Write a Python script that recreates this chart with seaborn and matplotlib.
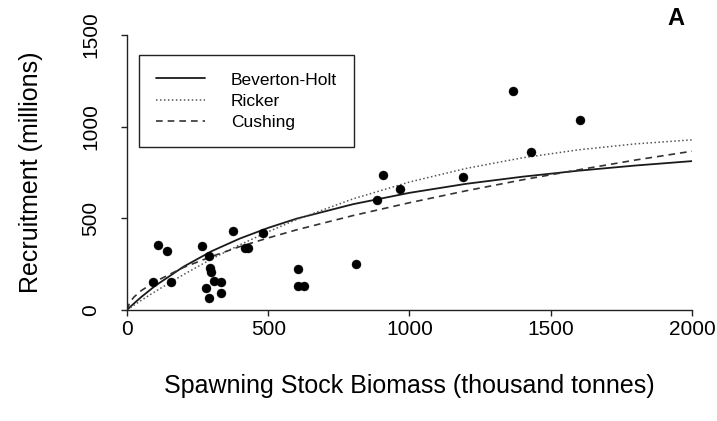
import matplotlib
matplotlib.use("Agg")
import matplotlib.pyplot as plt
import seaborn as sns
import pandas as pd

# Observed stock-recruitment points (SSB thousand tonnes, recruitment millions)
ssb_obs = [91, 109, 142, 156, 267, 290, 293, 296, 281, 308, 332, 290, 332,
           376, 417, 427, 480, 607, 604, 628, 812, 886, 907, 966, 1188,
           1368, 1431, 1604]
rec_obs = [152, 357, 320, 152, 348, 292, 228, 208, 121, 158, 152, 65, 91,
           429, 338, 338, 418, 223, 130, 130, 251, 598, 735, 662, 724,
           1192, 861, 1038]

# Fitted curves
curve_ssb = [0, 10, 25, 50, 100, 200, 300, 400, 500, 600, 800, 1000, 1200,
             1400, 1600, 1800, 2000]
bh_rec = [0, 15, 36, 70, 132, 236, 321, 390, 448, 498, 577, 639, 688,
          727, 760, 788, 812]
ricker_rec = [0, 10, 26, 52, 101, 193, 279, 356, 427, 493, 606, 698, 772,
              830, 874, 906, 928]
cushing_rec = [0, 42, 71, 105, 155, 232, 292, 346, 393, 437, 515, 585, 650,
               710, 765, 818, 866]

series_names = ["Beverton-Holt", "Ricker", "Cushing"]
x_ticks = [0, 500, 1000, 1500, 2000]
y_ticks = [0, 500, 1000, 1500]

sns.set_style("ticks")
plt.rcParams["font.family"] = ["Liberation Sans", "DejaVu Sans"]
plt.rcParams["text.color"] = "black"
plt.rcParams["axes.labelcolor"] = "black"

fig = plt.figure(figsize=(7.17, 4.21), dpi=100)
ax = fig.add_axes([0.1771, 0.2637, 0.788, 0.6532])

curves = pd.DataFrame({"ssb": curve_ssb, "bh": bh_rec, "ricker": ricker_rec,
                       "cushing": cushing_rec})
sns.lineplot(data=curves, x="ssb", y="bh", ax=ax, color="#1a1a1a",
             linewidth=1.3, linestyle="-", label=series_names[0], sort=True)
sns.lineplot(data=curves, x="ssb", y="ricker", ax=ax, color="#555555",
             linewidth=1.1, linestyle=(0, (1, 1.6)), label=series_names[1], sort=True)
sns.lineplot(data=curves, x="ssb", y="cushing", ax=ax, color="#333333",
             linewidth=1.2, linestyle=(0, (4, 3)), label=series_names[2], sort=True)

obs = pd.DataFrame({"ssb": ssb_obs, "rec": rec_obs})
sns.scatterplot(data=obs, x="ssb", y="rec", ax=ax, color="black", s=42,
                edgecolor="black", linewidth=0.3, zorder=5)

ax.set_xlim(0, 2000)
ax.set_ylim(0, 1500)
ax.set_xticks(x_ticks)
ax.set_yticks(y_ticks)
ax.set_xticklabels([str(v) for v in x_ticks])
ax.set_yticklabels([str(v) for v in y_ticks])
sns.despine(ax=ax)
for sp in ("left", "bottom"):
    ax.spines[sp].set_linewidth(1.0)
    ax.spines[sp].set_color("#222222")
ax.tick_params(axis="both", direction="out", length=4, width=1.0,
               colors="#222222", labelsize=15, labelcolor="black")
ax.tick_params(axis="x", pad=3)
ax.tick_params(axis="y", pad=22)
for lab in ax.get_yticklabels():
    lab.set_rotation(90)
    lab.set_va("center")
    lab.set_ha("center")

ax.set_xlabel("Spawning Stock Biomass (thousand tonnes)", fontsize=18)
ax.set_ylabel("Recruitment (millions)", fontsize=18)
ax.xaxis.set_label_coords(0.5, -0.233)
ax.yaxis.set_label_coords(-0.149, 0.5)

leg = ax.legend(loc="upper left", bbox_to_anchor=(0.021, 0.927),
                borderaxespad=0, fontsize=12.5, frameon=True, fancybox=False,
                handlelength=2.8, handletextpad=1.5, labelspacing=0.35,
                borderpad=1.0, edgecolor="#222222", framealpha=1)
leg.get_frame().set_linewidth(1.0)

fig.text(0.943, 0.955, "A", fontsize=17, fontweight="bold", ha="center",
         va="center")

fig.savefig("out.png", dpi=100)
